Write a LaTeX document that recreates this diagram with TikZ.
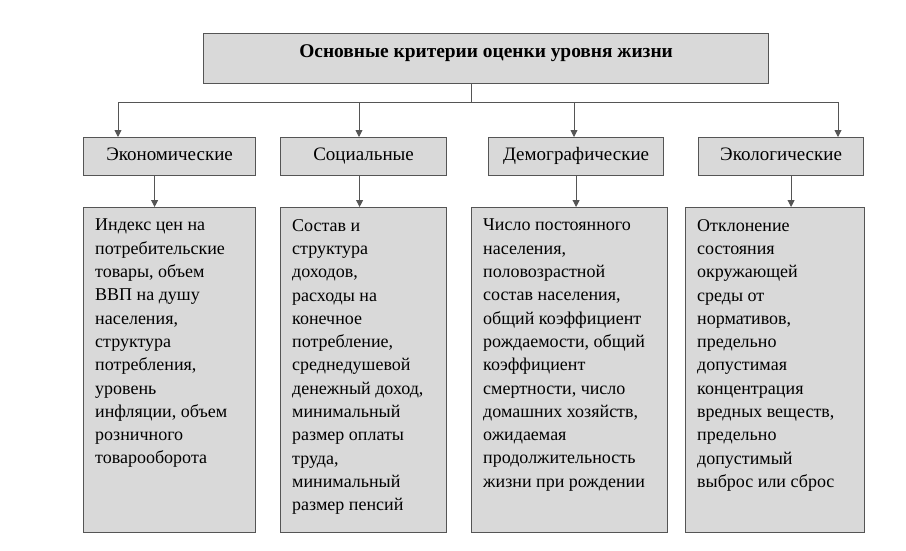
\documentclass[tikz,border=0pt]{standalone}
\usepackage{fontspec}
\setmainfont{Liberation Serif}
\usepackage{tikz}
\usetikzlibrary{positioning}
\usetikzlibrary{arrows.meta}

\definecolor{boxfill}{HTML}{D9D9D9}
\definecolor{boxline}{HTML}{555555}

\begin{document}
\begin{tikzpicture}[
        x = 1pt,
        y = -1pt,
        box/.style = {
            draw = boxline,
            fill = boxfill,
            line width = 1.2pt,
            inner sep = 0pt,
            anchor = north west,
            minimum width = #1
        },
        box/.default = 170pt,
        head/.style = {
            box = 565pt,
            minimum height = 50pt,
            text height = 13pt,
            text depth = 16pt,
            font = \bfseries\fontsize{19.4}{22}\selectfont
        },
        cat/.style = {
            box = #1,
            minimum height = 38pt,
            text height = 13pt,
            text depth = 5pt,
            font = \fontsize{19}{22}\selectfont
        },
        card/.style = {
            box = #1,
            minimum height = 325pt
        },
        txt/.style = {
            anchor = north west,
            align = left,
            inner sep = 0pt,
            font = \fontsize{18}{23.3}\selectfont
        },
        link/.style = {
            draw = boxline,
            line width = 0.9pt
        },
        arrow/.style = {
            link,
            -{Triangle[length=7pt, width=7pt]}
        }
    ]
    \useasboundingbox (0,0) rectangle (906,550);

    \coordinate (hub) at (471,102);
    \coordinate (t1) at (118,102);
    \coordinate (t2) at (359,102);
    \coordinate (t3) at (574,102);
    \coordinate (t4) at (838,102);

    \node[head] (crit) at (203,33) {Основные критерии оценки уровня жизни};

    \node[cat=172pt] (econ) at (83,137) {Экономические};
    \node[cat=166pt] (soc) at (280,137) {Социальные};
    \node[cat=175pt] (demo) at (488,137) {Демографические};
    \node[cat=165pt] (ecol) at (698,137) {Экологические};

    \node[card=172pt] (econd) at (83,207) {};
    \node[card=166pt] (socd) at (280,207) {};
    \node[card=196pt] (demod) at (471,207) {};
    \node[card=179pt] (ecold) at (685,207) {};

    \node[txt] (econt) at ([shift={(12,12)}]econd.north west) {Индекс цен на\\потребительские\\товары, объем\\ВВП на душу\\населения,\\структура\\потребления,\\уровень\\инфляции, объем\\розничного\\товарооборота};
    \node[txt] (soct) at ([shift={(12,12)}]socd.north west) {Состав и\\структура\\доходов,\\расходы на\\конечное\\потребление,\\среднедушевой\\денежный доход,\\минимальный\\размер оплаты\\труда,\\минимальный\\размер пенсий};
    \node[txt] (demot) at ([shift={(12,12)}]demod.north west) {Число постоянного\\населения,\\половозрастной\\состав населения,\\общий коэффициент\\рождаемости, общий\\коэффициент\\смертности, число\\домашних хозяйств,\\ожидаемая\\продолжительность\\жизни при рождении};
    \node[txt] (ecolt) at ([shift={(12,12)}]ecold.north west) {Отклонение\\состояния\\окружающей\\среды от\\нормативов,\\предельно\\допустимая\\концентрация\\вредных веществ,\\предельно\\допустимый\\выброс или сброс};

    % top level
    \draw[link] (crit.south -| hub) -- (hub);
    \draw[link] (t1) -- (t4);
    \draw[arrow] (t1) -- (t1 |- econ.north);
    \draw[arrow] (t2) -- (t2 |- soc.north);
    \draw[arrow] (t3) -- (t3 |- demo.north);
    \draw[arrow] (t4) -- (t4 |- ecol.north);

    % second level
    \draw[arrow] ([xshift=-15pt]econ.south) -- ([xshift=-15pt]econ.south |- econd.north);
    \draw[arrow] ([xshift=-4pt]soc.south) -- ([xshift=-4pt]soc.south |- socd.north);
    \draw[arrow] (demo.south) -- (demo.south |- demod.north);
    \draw[arrow] ([xshift=10pt]ecol.south) -- ([xshift=10pt]ecol.south |- ecold.north);
\end{tikzpicture}
\end{document}
